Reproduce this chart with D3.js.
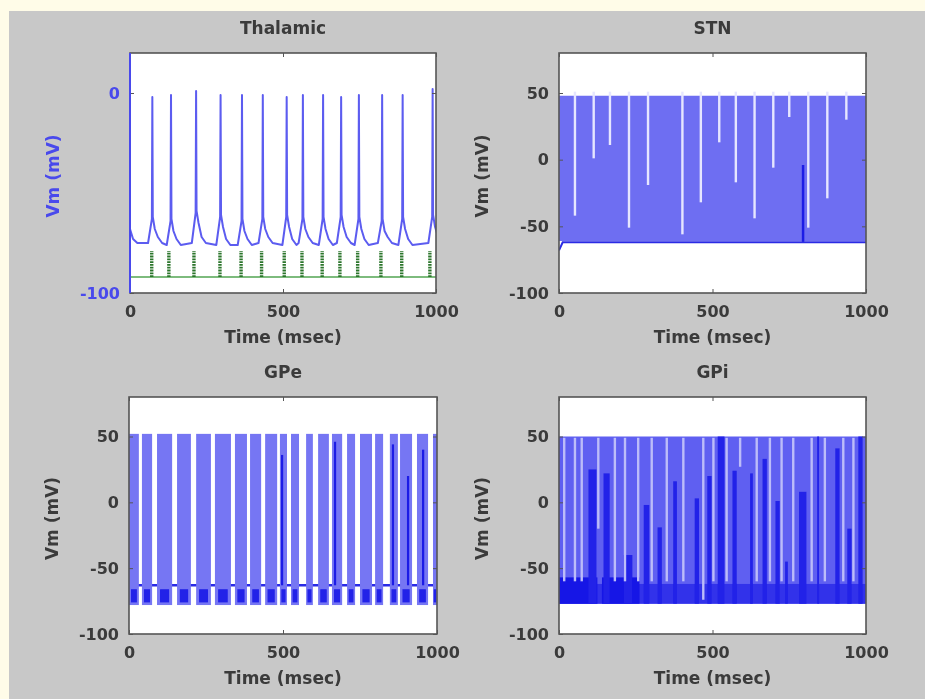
<!DOCTYPE html>
<html lang="en">
<head>
  <meta charset="UTF-8">
  <title>Thalamic / STN / GPe / GPi membrane potential</title>
  <!-- d3 from the CDN -->
  <script src="https://d3js.org/d3.v7.min.js"></script>
  <style>
    body { margin: 0; background: #fffce8; }
    svg text { font-family: "DejaVu Sans", Arial, sans-serif; font-weight: bold; }
  </style>
</head>
<body>
<div id="chart"></div>
<script>
// ---- data ----
var timeTicks = [0, 500, 1000];
var thalTicks = [-100, 0];
var vmTicks = [-100, -50, 0, 50];

// Thalamic cell: spike times (ms), spike peak, pre/post spike hump and resting level (mV)
var thalSpikeT = [73, 134, 216, 296, 366, 434, 512, 565, 631, 690, 748, 824, 891, 989];
var thalPeak   = [-2, -1, 1, -1, -1, -1, -2, -1, -1, -2, -1, -1, -1, 2];
var thalHump   = [-63, -64, -60, -62, -64, -63, -62, -63, -63, -62, -63, -64, -63, -62];
var thalRest   = [-75, -76, -75, -76, -76, -75, -76, -75, -76, -75, -76, -75, -76, -75];
var thalStart  = [[0, -68], [10, -73], [24, -75]];
// sensorimotor input pulses (green trace)
var smPulseT = [71, 127, 209, 294, 363, 430, 504, 562, 628, 686, 744, 820, 888, 980];
var smBase = -92, smTop = -79;

// STN: dense firing between trough and peak, with quiet gaps reaching down to a floor
var stnPeak = 48, stnTrough = -62;
var stnGapT     = [52, 113, 166, 228, 290, 402, 462, 522, 576, 637, 698, 750, 812, 874, 936];
var stnGapFloor = [-42, 1, 11, -51, -19, -56, -32, 13, -17, -44, -6, 32, -51, -29, 30];
var stnDarkT = [795], stnDarkTop = [-4];

// GPe: bursts (on/off in ms) separated by quiet periods at rest
var gpeBurstOn  = [0, 42, 91, 156, 218, 279, 344, 393, 442, 490, 526, 575, 614, 659, 708, 750, 799, 847, 880, 935, 987];
var gpeBurstOff = [32, 75, 140, 201, 266, 331, 383, 429, 481, 513, 552, 597, 649, 692, 734, 789, 825, 873, 919, 971, 1000];
var gpePeak = 52, gpeTrough = -78, gpeRest = -63;
var gpeDarkT   = [497, 669, 857, 906, 955];
var gpeDarkTop = [36, 46, 44, 20, 40];

// GPi: near continuous firing, pale gaps and dark overlapping spikes
var gpiPeak = 50, gpiTrough = -77;
var gpiPaleT   = [17, 52, 74, 128, 182, 215, 258, 302, 351, 405, 470, 503, 546, 590, 644, 687, 725, 763, 823, 866, 926, 959];
var gpiPaleLow = [-60, -60, -60, -20, -60, -60, -60, -60, -60, -60, -74, -60, -60, 27, -60, -60, -60, -60, -60, -60, -60, -60];
var gpiDarkT   = [109, 155, 225, 285, 328, 378, 449, 490, 528, 572, 627, 670, 712, 741, 794, 844, 907, 946, 982];
var gpiDarkW   = [26, 20, 28, 18, 14, 12, 14, 14, 22, 14, 9, 14, 14, 9, 24, 6, 14, 14, 14];
var gpiDarkTop = [25, 22, -40, -2, -19, 16, 3, 20, 50, 24, 22, 33, 1, -45, 8, 50, 41, -20, 50];
var gpiClusterOn = [0, 140], gpiClusterOff = [125, 262];

// ---- layout ----
var panels = [
  {key: "thal", title: "Thalamic", left: 130, right: 436, top: 53, bottom: 293, vDomain: [-100, 20], ticks: thalTicks},
  {key: "stn",  title: "STN",      left: 559, right: 866, top: 53, bottom: 293, vDomain: [-100, 80], ticks: vmTicks},
  {key: "gpe",  title: "GPe",      left: 129, right: 437, top: 397, bottom: 634, vDomain: [-100, 80], ticks: vmTicks},
  {key: "gpi",  title: "GPi",      left: 559, right: 866, top: 397, bottom: 634, vDomain: [-100, 80], ticks: vmTicks}
];
var textColor = "#3a3a3a";
var thalBlue = "#4848ec";

var svg = d3.select("#chart").append("svg").attr("width", 925).attr("height", 699);
var defs = svg.append("defs");
defs.append("filter").attr("id", "soft")
  .attr("x", 0).attr("y", 0).attr("width", 925).attr("height", 699)
  .attr("filterUnits", "userSpaceOnUse")
  .append("feGaussianBlur").attr("stdDeviation", 0.6);

svg.append("rect").attr("width", 925).attr("height", 699).attr("fill", "#fffce8");
svg.append("rect").attr("x", 9).attr("y", 11).attr("width", 916).attr("height", 688).attr("fill", "#c8c8c8");

var fig = svg.append("g").attr("filter", "url(#soft)");

function makeAxes(p) {
  var g = fig.append("g");
  var x = d3.scaleLinear().domain([0, 1000]).range([p.left, p.right]);
  var y = d3.scaleLinear().domain(p.vDomain).range([p.bottom, p.top]);
  g.append("rect")
    .attr("x", p.left).attr("y", p.top)
    .attr("width", p.right - p.left).attr("height", p.bottom - p.top)
    .attr("fill", "#ffffff");
  defs.append("clipPath").attr("id", "clip-" + p.key)
    .append("rect")
    .attr("x", p.left).attr("y", p.top)
    .attr("width", p.right - p.left).attr("height", p.bottom - p.top);
  var plot = g.append("g").attr("clip-path", "url(#clip-" + p.key + ")");
  return {g: g, plot: plot, x: x, y: y};
}

function tidy(sel, col) {
  sel.select(".domain").remove();
  sel.attr("font-family", null).attr("font-size", null);
  sel.selectAll("line").attr("stroke", "#555");
  sel.selectAll("text").attr("fill", col).style("font-size", "16px");
}

function finishAxes(a, p, labelCol) {
  var fmt = function(d) { return String(d); };
  a.g.append("g").attr("transform", "translate(0," + p.bottom + ")")
    .call(d3.axisBottom(a.x).tickValues(timeTicks).tickFormat(fmt).tickSize(-4).tickPadding(13))
    .call(tidy, textColor);
  a.g.append("g").attr("transform", "translate(0," + p.top + ")")
    .call(d3.axisTop(a.x).tickValues(timeTicks).tickFormat("").tickSize(-4))
    .call(tidy, textColor);
  a.g.append("g").attr("transform", "translate(" + p.left + ",0)")
    .call(d3.axisLeft(a.y).tickValues(p.ticks).tickFormat(fmt).tickSize(-4).tickPadding(10))
    .call(tidy, labelCol);
  a.g.append("g").attr("transform", "translate(" + p.right + ",0)")
    .call(d3.axisRight(a.y).tickValues(p.ticks).tickFormat("").tickSize(-4))
    .call(tidy, textColor);

  // axes box
  a.g.append("rect")
    .attr("x", p.left).attr("y", p.top)
    .attr("width", p.right - p.left).attr("height", p.bottom - p.top)
    .attr("fill", "none").attr("stroke", "#555").attr("stroke-width", 1.6);
  if (labelCol !== textColor) {
    a.g.append("line")
      .attr("x1", p.left).attr("x2", p.left).attr("y1", p.top).attr("y2", p.bottom)
      .attr("stroke", labelCol).attr("stroke-width", 2);
  }

  // titles and labels
  var cx = (p.left + p.right) / 2;
  a.g.append("text").attr("x", cx).attr("y", p.top - 19)
    .attr("text-anchor", "middle").attr("fill", textColor)
    .style("font-size", "17px").text(p.title);
  a.g.append("text").attr("x", cx).attr("y", p.bottom + 50)
    .attr("text-anchor", "middle").attr("fill", textColor)
    .style("font-size", "17px").text("Time (msec)");
  a.g.append("text")
    .attr("transform", "translate(" + (p.left - 77) + "," + ((p.top + p.bottom) / 2 + 3) + ") rotate(-90)")
    .attr("text-anchor", "middle").attr("dy", "0.35em").attr("fill", labelCol)
    .style("font-size", "17px").text("Vm (mV)");
}

// ---- Thalamic ----
(function() {
  var p = panels[0];
  var a = makeAxes(p);
  var line = d3.line().x(function(d) { return a.x(d[0]); }).y(function(d) { return a.y(d[1]); });

  // green input trace: baseline and pulses
  a.plot.append("path").datum([[0, smBase], [1000, smBase]])
    .attr("d", line).attr("fill", "none").attr("stroke", "#52a552").attr("stroke-width", 1.7);
  a.plot.selectAll("line.pulse").data(smPulseT).enter().append("line")
    .attr("class", "pulse")
    .attr("x1", function(d) { return a.x(d); }).attr("x2", function(d) { return a.x(d); })
    .attr("y1", a.y(smBase)).attr("y2", a.y(smTop))
    .attr("stroke", "#2a742a").attr("stroke-width", 3.4).attr("stroke-dasharray", "1.8,1");

  // blue membrane trace built from the spike list
  var pts = thalStart.slice();
  thalSpikeT.forEach(function(t, i) {
    pts.push([t - 14, thalRest[i]], [t - 1.5, thalHump[i]], [t, thalPeak[i]],
             [t + 1.5, thalHump[i] + 1], [t + 8, thalHump[i] - 5],
             [t + 18, thalRest[i] + 3], [t + 32, thalRest[i]]);
  });
  a.plot.append("path").datum(pts)
    .attr("d", line).attr("fill", "none").attr("stroke", "#5c5cf0").attr("stroke-width", 2)
    .attr("stroke-linejoin", "round");

  finishAxes(a, p, thalBlue);
})();

// ---- STN ----
(function() {
  var p = panels[1];
  var a = makeAxes(p);
  var line = d3.line().x(function(d) { return a.x(d[0]); }).y(function(d) { return a.y(d[1]); });
  var area = d3.area().x(function(d) { return a.x(d); })
    .y0(a.y(stnTrough + 1)).y1(a.y(stnPeak));

  a.plot.append("path").datum([0, 1000]).attr("d", area).attr("fill", "#6e6ef2");
  a.plot.selectAll("line.gap").data(stnGapT).enter().append("line")
    .attr("class", "gap")
    .attr("x1", function(d) { return a.x(d); }).attr("x2", function(d) { return a.x(d); })
    .attr("y1", a.y(stnPeak + 3))
    .attr("y2", function(d, i) { return a.y(stnGapFloor[i]); })
    .attr("stroke", "#e6e6ff").attr("stroke-width", 2.4);
  a.plot.selectAll("line.dark").data(stnDarkT).enter().append("line")
    .attr("class", "dark")
    .attr("x1", function(d) { return a.x(d); }).attr("x2", function(d) { return a.x(d); })
    .attr("y1", function(d, i) { return a.y(stnDarkTop[i]); })
    .attr("y2", a.y(stnTrough))
    .attr("stroke", "#1c1ce6").attr("stroke-width", 2.5);
  a.plot.append("path").datum([[0, -68], [12, stnTrough], [1000, stnTrough]])
    .attr("d", line).attr("fill", "none").attr("stroke", "#2b2be4").attr("stroke-width", 2);

  finishAxes(a, p, textColor);
})();

// ---- GPe ----
(function() {
  var p = panels[2];
  var a = makeAxes(p);
  var line = d3.line().x(function(d) { return a.x(d[0]); }).y(function(d) { return a.y(d[1]); });

  a.plot.append("path").datum([[0, gpeRest], [1000, gpeRest]])
    .attr("d", line).attr("fill", "none").attr("stroke", "#2a2ae6").attr("stroke-width", 2.5);

  a.plot.selectAll("rect.burst").data(gpeBurstOn).enter().append("rect")
    .attr("class", "burst")
    .attr("x", function(d) { return a.x(d); })
    .attr("width", function(d, i) { return a.x(gpeBurstOff[i]) - a.x(d); })
    .attr("y", a.y(gpePeak)).attr("height", a.y(gpeTrough) - a.y(gpePeak))
    .attr("fill", "#7676f3");

  // dense troughs at the bottom of each burst
  a.plot.selectAll("rect.blob").data(gpeBurstOn).enter().append("rect")
    .attr("class", "blob")
    .attr("x", function(d, i) { return a.x(d + (gpeBurstOff[i] - d) * 0.2); })
    .attr("width", function(d, i) { return (a.x(gpeBurstOff[i]) - a.x(d)) * 0.6; })
    .attr("y", a.y(-66)).attr("height", a.y(-76) - a.y(-66))
    .attr("fill", "#2020e8");

  a.plot.selectAll("line.dark").data(gpeDarkT).enter().append("line")
    .attr("class", "dark")
    .attr("x1", function(d) { return a.x(d); }).attr("x2", function(d) { return a.x(d); })
    .attr("y1", function(d, i) { return a.y(gpeDarkTop[i]); })
    .attr("y2", a.y(gpeRest))
    .attr("stroke", "#1a1ae6").attr("stroke-width", 2.2);

  finishAxes(a, p, textColor);
})();

// ---- GPi ----
(function() {
  var p = panels[3];
  var a = makeAxes(p);
  var area = d3.area().x(function(d) { return a.x(d); })
    .y0(a.y(gpiTrough)).y1(a.y(gpiPeak));

  a.plot.append("path").datum([0, 1000]).attr("d", area).attr("fill", "#5f5ff1");
  a.plot.append("rect")
    .attr("x", a.x(0)).attr("width", a.x(1000) - a.x(0))
    .attr("y", a.y(-62)).attr("height", a.y(gpiTrough) - a.y(-62))
    .attr("fill", "#3030ea");
  a.plot.selectAll("rect.cluster").data(gpiClusterOn).enter().append("rect")
    .attr("class", "cluster")
    .attr("x", function(d) { return a.x(d); })
    .attr("width", function(d, i) { return a.x(gpiClusterOff[i]) - a.x(d); })
    .attr("y", a.y(-57)).attr("height", a.y(gpiTrough) - a.y(-57))
    .attr("fill", "#1616e6");
  a.plot.selectAll("rect.dark").data(gpiDarkT).enter().append("rect")
    .attr("class", "dark")
    .attr("x", function(d, i) { return a.x(d - gpiDarkW[i] / 2); })
    .attr("width", function(d, i) { return Math.max(1.5, a.x(gpiDarkW[i]) - a.x(0)); })
    .attr("y", function(d, i) { return a.y(gpiDarkTop[i]); })
    .attr("height", function(d, i) { return a.y(gpiTrough) - a.y(gpiDarkTop[i]); })
    .attr("fill", "#2222e8");
  a.plot.selectAll("line.pale").data(gpiPaleT).enter().append("line")
    .attr("class", "pale")
    .attr("x1", function(d) { return a.x(d); }).attr("x2", function(d) { return a.x(d); })
    .attr("y1", a.y(gpiPeak - 1))
    .attr("y2", function(d, i) { return a.y(gpiPaleLow[i]); })
    .attr("stroke", "#bcbcf9").attr("stroke-width", 2.4);

  finishAxes(a, p, textColor);
})();
</script>
</body>
</html>
